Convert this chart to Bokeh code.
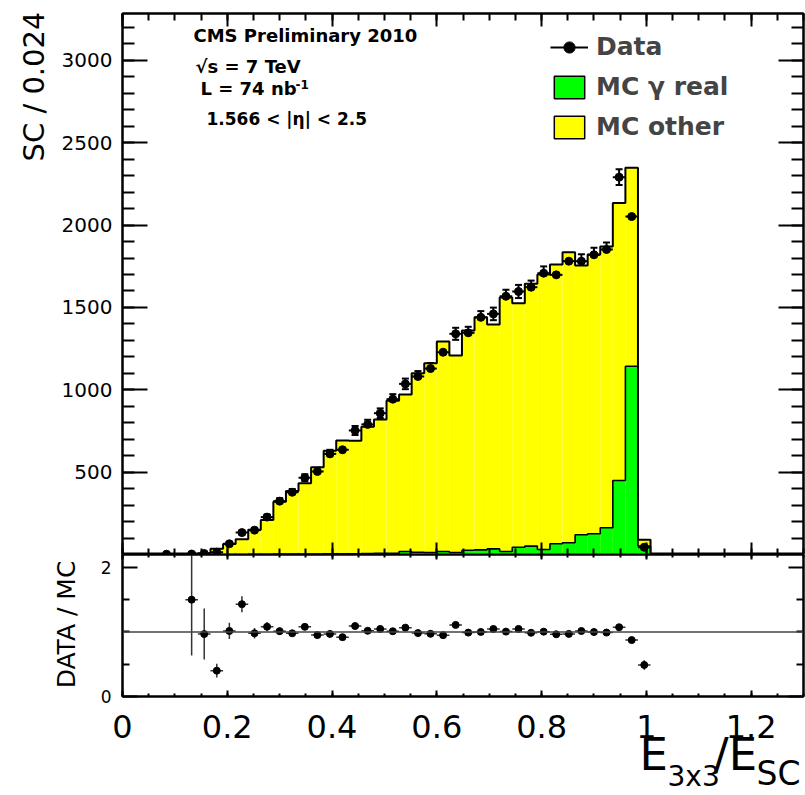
import numpy as np
from bokeh.core.properties import value
from bokeh.embed import file_html
from bokeh.layouts import column, row
from bokeh.models import (ColumnDataSource, FixedTicker, Label, LabelSet, Legend, LegendItem,
                          LinearAxis, Range1d, Span, TeeHead, Whisker)
from bokeh.plotting import figure
from bokeh.resources import INLINE

FONT = "DejaVu Sans"

# E3x3/ESC for superclusters in the endcaps: 50 bins of width 0.024 on [0, 1.2]
bin_lo = 0.0
bin_width = 0.024
n_bins = 50

data_counts = [0, 0, 0, 2, 0, 3, 6, 14, 65, 133,
               148, 227, 324, 378, 466, 504, 611, 636, 753, 790,
               858, 943, 1036, 1081, 1129, 1228, 1340, 1346, 1440, 1461,
               1568, 1597, 1623, 1708, 1698, 1781, 1781, 1820, 1852, 2291,
               2052, 44, 0, 0, 0, 0, 0, 0, 0, 0]

# stacked MC: total (real photons + other) and real photons alone
mc_total = [0, 0, 0, 0, 0, 2, 6.2, 35, 64, 93,
            151, 210, 320, 386, 432, 530, 630, 692, 690, 776,
            820, 933, 971, 1100, 1162, 1293, 1208, 1360, 1440, 1396,
            1560, 1525, 1644, 1700, 1761, 1836, 1755, 1822, 1870, 2135,
            2348, 90, 0, 0, 0, 0, 0, 0, 0, 0]

mc_gamma_real = [0, 0, 0, 0, 0, 0, 0, 0, 0, 0,
                 1, 1, 2, 2, 3, 3, 4, 4, 5, 6,
                 8, 8, 18, 14, 12, 18, 12, 26, 28, 34,
                 18, 44, 51, 30, 65, 71, 120, 126, 162, 449,
                 1143, 52, 0, 0, 0, 0, 0, 0, 0, 0]

x_major = [0.0, 0.2, 0.4, 0.6, 0.8, 1.0, 1.2]
x_major_labels = ["0", "0.2", "0.4", "0.6", "0.8", "1", "1.2"]
x_minor = [round(0.05 * k, 2) for k in range(27)]
y_major = [500, 1000, 1500, 2000, 2500, 3000]
y_minor = [100 * k for k in range(33)]
r_major = [0, 2]
r_minor = [0.5, 1.0, 1.5]

X_MAX = 1.3
Y_MAX = 3285
R_MAX = 2.2

# page geometry (pixels)
W = 805
FRAME_L, FRAME_R = 122, 803
STRIP_A, STRIP_B = 58, 85
TOP_H, BOT_H = 554, 152
TITLE_H = 795 - TOP_H - BOT_H

edges = bin_lo + bin_width * np.arange(n_bins + 1)
centers = edges[:-1] + bin_width / 2
data = np.array(data_counts, dtype=float)
tot = np.array(mc_total, dtype=float)
real = np.array(mc_gamma_real, dtype=float)


def style_axis(ax, ticker, major_in, minor_in, show_labels=True, size="20px", standoff=10):
    ax.ticker = ticker
    ax.axis_line_color = "black"
    ax.axis_line_width = 2
    ax.major_tick_in = major_in
    ax.major_tick_out = 0
    ax.minor_tick_in = minor_in
    ax.minor_tick_out = 0
    ax.major_tick_line_color = "black"
    ax.minor_tick_line_color = "black"
    ax.major_tick_line_width = 2
    ax.minor_tick_line_width = 2
    if show_labels:
        ax.major_label_text_font = FONT
        ax.major_label_text_font_size = size
        ax.major_label_text_color = "black"
        ax.major_label_standoff = standoff
    else:
        ax.major_label_text_font_size = "0px"
        ax.major_label_text_color = None
        ax.major_label_standoff = 0


def text_strip(width, height, x_range=None):
    """Blank figure used to carry axis titles."""
    s = figure(width=width, height=height, title=None, output_backend="svg", toolbar_location=None,
               x_range=x_range if x_range is not None else Range1d(0, width),
               y_range=Range1d(0, height), x_axis_type=None, y_axis_type=None,
               min_border=0, min_border_left=0, min_border_right=0,
               min_border_top=0, min_border_bottom=0,
               outline_line_color=None, background_fill_color="white",
               border_fill_color="white")
    s.grid.visible = False
    return s


def add_text(fig, x, y, text, size, bold=False, **kw):
    fig.add_layout(Label(x=x, y=y, x_units="screen", y_units="screen", text=text,
                         text_font=FONT, text_font_size=size,
                         text_font_style="bold" if bold else "normal",
                         text_color="black", **kw))


# ---------------- upper panel: distributions ----------------
top = figure(width=W - STRIP_A, height=TOP_H, title=None,
             x_range=Range1d(0, X_MAX), y_range=Range1d(0, Y_MAX),
             output_backend="svg", toolbar_location=None,
             min_border_left=FRAME_L - STRIP_A, min_border_right=W - FRAME_R,
             min_border_top=13, min_border_bottom=0,
             background_fill_color="white", border_fill_color="white",
             outline_line_color="black", outline_line_width=2)
top.grid.visible = False

style_axis(top.xaxis[0], FixedTicker(ticks=x_major, minor_ticks=x_minor), 12, 6, show_labels=False)
style_axis(top.yaxis[0], FixedTicker(ticks=y_major, minor_ticks=y_minor), 25, 12, size="20px", standoff=10)
ax_t = LinearAxis()
style_axis(ax_t, FixedTicker(ticks=x_major, minor_ticks=x_minor), 13, 7, show_labels=False)
top.add_layout(ax_t, "above")
ax_r = LinearAxis()
style_axis(ax_r, FixedTicker(ticks=y_major, minor_ticks=y_minor), 25, 12, show_labels=False)
top.add_layout(ax_r, "right")

hist = ColumnDataSource(dict(left=edges[:-1], right=edges[1:], total=tot, real=real))
top.quad(left="left", right="right", bottom=0, top="total", source=hist,
         fill_color="#ffff00", line_color=None)
top.quad(left="left", right="right", bottom=0, top="real", source=hist,
         fill_color="#00ff00", line_color=None)
top.step(x=edges, y=np.append(tot, 0), mode="after", line_color="black", line_width=2)
top.step(x=edges, y=np.append(real, 0), mode="after", line_color="black", line_width=1.6)

# legend swatches (outlined boxes)
leg_real = top.quad(left="left", right="right", bottom=0, top="real", source=hist,
                    fill_color="#00ff00", line_color="black", line_width=1.5, visible=False)
leg_other = top.quad(left="left", right="right", bottom=0, top="total", source=hist,
                     fill_color="#ffff00", line_color="black", line_width=1.5, visible=False)

has_data = data > 0
err = np.sqrt(data[has_data])
pts = ColumnDataSource(dict(x=centers[has_data], y=data[has_data],
                            lo=data[has_data] - err, hi=data[has_data] + err,
                            xl=edges[:-1][has_data], xr=edges[1:][has_data]))
hbar = top.segment(x0="xl", y0="y", x1="xr", y1="y", source=pts, line_color="black", line_width=2)
top.add_layout(Whisker(source=pts, base="x", lower="lo", upper="hi", dimension="height",
                       line_color="black", line_width=2,
                       upper_head=TeeHead(size=7, line_color="black", line_width=2),
                       lower_head=TeeHead(size=7, line_color="black", line_width=2)))
dots = top.scatter(x="x", y="y", source=pts, size=8, marker="circle",
                   fill_color="black", line_color="black")

legend = Legend(items=[LegendItem(label="Data", renderers=[hbar, dots]),
                       LegendItem(label="MC γ real", renderers=[leg_real]),
                       LegendItem(label="MC other", renderers=[leg_other])],
                location=(428, 413), orientation="vertical",
                glyph_width=38, glyph_height=28, label_height=29, spacing=11,
                padding=0, margin=0, label_standoff=8,
                label_text_font=FONT, label_text_font_size="25px", label_text_font_style="bold",
                border_line_color=None, background_fill_alpha=0, click_policy="none")
top.add_layout(legend)

add_text(top, 71, 509, "CMS Preliminary 2010", "18px", bold=True)
add_text(top, 73, 478, "√s = 7 TeV", "18px", bold=True)
add_text(top, 78, 456, "L = 74 nb", "18px", bold=True)
add_text(top, 173, 466, "-1", "12px", bold=True)
add_text(top, 84, 426, "1.566 < |η| < 2.5", "17px", bold=True)

strip_a = text_strip(STRIP_A, TOP_H)
add_text(strip_a, 33, TOP_H - 86, "SC / 0.024", "29px", angle=np.pi / 2,
         text_align="center", text_baseline="middle")

# ---------------- lower panel: DATA / MC ----------------
bot = figure(width=W - STRIP_B, height=BOT_H, title=None,
             x_range=top.x_range, y_range=Range1d(0, R_MAX),
             output_backend="svg", toolbar_location=None,
             min_border_left=FRAME_L - STRIP_B, min_border_right=W - FRAME_R,
             min_border_top=0, min_border_bottom=10,
             background_fill_color="white", border_fill_color="white",
             outline_line_color="black", outline_line_width=2)
bot.grid.visible = False

style_axis(bot.xaxis[0], FixedTicker(ticks=x_major, minor_ticks=x_minor), 6, 3, show_labels=False)
style_axis(bot.yaxis[0], FixedTicker(ticks=r_major, minor_ticks=r_minor), 15, 7,
           size="17px", standoff=11)
bx_t = LinearAxis()
style_axis(bx_t, FixedTicker(ticks=x_major, minor_ticks=x_minor), 5, 3, show_labels=False)
bot.add_layout(bx_t, "above")
by_r = LinearAxis()
style_axis(by_r, FixedTicker(ticks=r_major, minor_ticks=r_minor), 15, 7, show_labels=False)
bot.add_layout(by_r, "right")

bot.add_layout(Span(location=1.0, dimension="width", line_color="#444444", line_width=1.5))

ok = (data > 0) & (tot > 0)
ratio = data[ok] / tot[ok]
rerr = np.sqrt(data[ok]) / tot[ok]
rs = ColumnDataSource(dict(x=centers[ok], r=ratio, lo=ratio - rerr, hi=ratio + rerr,
                           xl=edges[:-1][ok], xr=edges[1:][ok]))
bot.segment(x0="x", y0="lo", x1="x", y1="hi", source=rs, line_color="#333333", line_width=1.5)
bot.segment(x0="xl", y0="r", x1="xr", y1="r", source=rs, line_color="#333333", line_width=1.5)
bot.scatter(x="x", y="r", source=rs, size=7, marker="circle", fill_color="black", line_color="black")

strip_b = text_strip(STRIP_B, BOT_H)
add_text(strip_b, 66, 72, "DATA / MC", "25px", angle=np.pi / 2,
         text_align="center", text_baseline="middle")

# ---------------- x tick labels and axis title ----------------
px_per_unit = (FRAME_R - FRAME_L) / X_MAX
strip_c = text_strip(W, TITLE_H,
                     x_range=Range1d(-FRAME_L / px_per_unit, X_MAX + (W - FRAME_R) / px_per_unit))
tick_src = ColumnDataSource(dict(x=x_major, y=[58] * len(x_major), text=x_major_labels))
strip_c.add_layout(LabelSet(x="x", y="y", text="text", source=tick_src,
                            x_units="data", y_units="screen",
                            text_align="center", text_baseline="alphabetic",
                            text_font=value(FONT), text_font_size=value("32px"),
                            text_color="black"))
# E_{3x3} / E_{SC}, right-aligned under the frame
add_text(strip_c, 639, 15, "E", "45px")
add_text(strip_c, 667, 3, "3x3", "28px")
add_text(strip_c, 713, 15, "/E", "45px")
add_text(strip_c, 756, 3, "SC", "33px")

layout = column(row(strip_a, top, spacing=0), row(strip_b, bot, spacing=0), strip_c, spacing=0)
open("out.html", "w").write(file_html(layout, INLINE))
